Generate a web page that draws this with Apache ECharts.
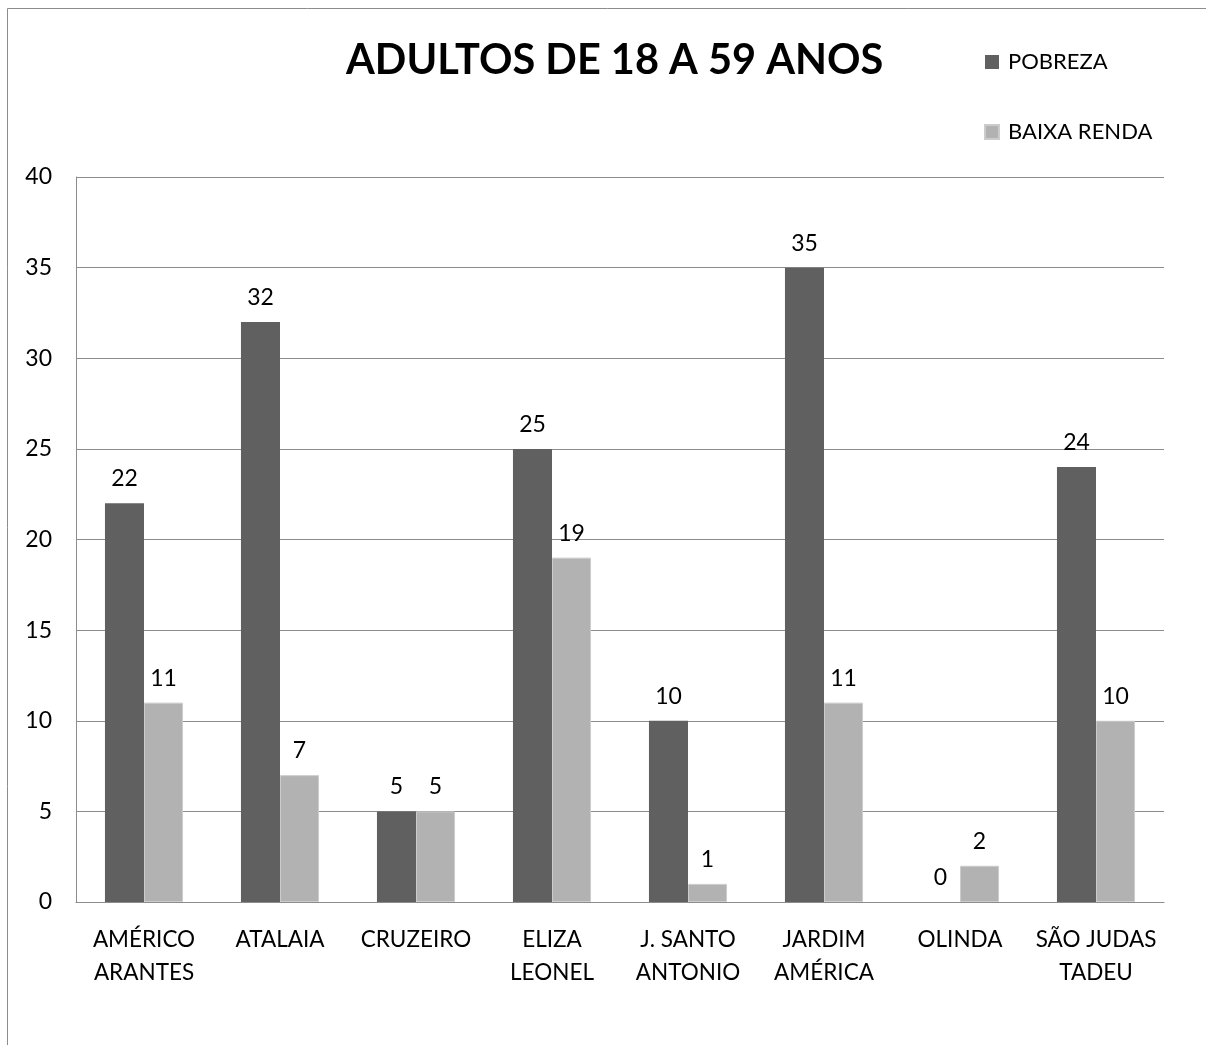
<!DOCTYPE html>
<html>
<head>
<meta charset="utf-8">
<script src="https://cdn.jsdelivr.net/npm/echarts@6/dist/echarts.min.js"></script>
<style>
	html, body { margin: 0; padding: 0; background: #fff; }
	#chart { width: 1206px; height: 1045px; }
</style>
</head>
<body>
<div id="chart"></div>
<script>
	// dados
	const bairros = ['AMÉRICO\nARANTES', 'ATALAIA', 'CRUZEIRO', 'ELIZA\nLEONEL', 'J. SANTO\nANTONIO', 'JARDIM\nAMÉRICA', 'OLINDA', 'SÃO JUDAS\nTADEU']
	const pobreza = [22, 32, 5, 25, 10, 35, 0, 24]
	const baixaRenda = [11, 7, 5, 19, 1, 11, 2, 10]

	const fonte = 'Lato, "Open Sans", sans-serif'
	const chart = echarts.init(document.getElementById('chart'))

	const label = {
		show: true,
		position: 'top',
		distance: 13,
		color: '#000',
		fontFamily: fonte,
		fontSize: 23
	}

	chart.setOption({
		backgroundColor: '#fff',
		animation: false,
		graphic: [{
			type: 'rect',
			shape: { x: 7.5, y: 8.5, width: 1400, height: 1200 },
			style: { fill: 'none', stroke: '#8c8c8c', lineWidth: 1 }
		}],
		title: {
			text: 'ADULTOS DE 18 A 59 ANOS',
			left: 341,
			top: 35,
			textStyle: {
				fontFamily: fonte,
				fontWeight: 'bold',
				fontSize: 41.5,
				color: '#000'
			}
		},
		legend: {
			orient: 'vertical',
			left: 979,
			top: 46,
			itemWidth: 14,
			itemHeight: 14,
			itemGap: 48,
			icon: 'rect',
			data: ['POBREZA', 'BAIXA RENDA'],
			textStyle: {
				fontFamily: fonte,
				fontSize: 22,
				color: '#000',
				padding: [0, 0, 0, 4]
			}
		},
		grid: {
			left: 76,
			right: 42,
			top: 177,
			bottom: 143
		},
		xAxis: {
			type: 'category',
			data: bairros,
			axisLine: { lineStyle: { color: '#8c8c8c' } },
			axisTick: { show: false },
			axisLabel: {
				margin: 21,
				interval: 0,
				color: '#000',
				fontFamily: fonte,
				fontSize: 22.5,
				lineHeight: 33,
				verticalAlign: 'top'
			}
		},
		yAxis: {
			type: 'value',
			min: 0,
			max: 40,
			interval: 5,
			axisLine: { show: true, lineStyle: { color: '#8c8c8c' } },
			axisTick: { show: false },
			axisLabel: {
				margin: 24,
				color: '#000',
				fontFamily: fonte,
				fontSize: 23
			},
			splitLine: { lineStyle: { color: '#8c8c8c' } }
		},
		series: [{
			name: 'POBREZA',
			type: 'bar',
			data: pobreza,
			barGap: '0%',
			barCategoryGap: '42.6%',
			itemStyle: { color: '#606060' },
			label: label
		}, {
			name: 'BAIXA RENDA',
			type: 'bar',
			data: baixaRenda,
			barGap: '0%',
			barCategoryGap: '42.6%',
			itemStyle: { color: '#b2b2b2', borderColor: '#cccccc', borderWidth: 1 },
			label: label
		}]
	})
</script>
</body>
</html>
